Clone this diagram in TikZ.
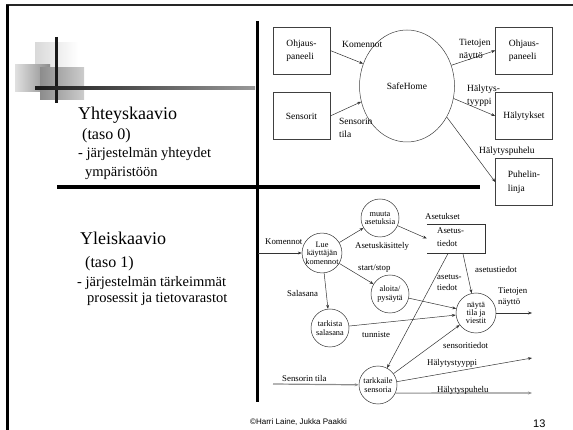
\documentclass[tikz,border=0pt]{standalone}
\usepackage{fontspec}
\setmainfont{Liberation Serif}
\setsansfont{Liberation Sans}
\usetikzlibrary{shapes.geometric,arrows.meta,positioning}

\begin{document}
\begin{tikzpicture}[x=1pt, y=-1pt, >=Stealth,
    extbox/.style={rectangle, draw=black!75, line width=0.5pt, minimum width=57pt, minimum height=47pt, align=left, font=\fontsize{9.5}{13.5}\selectfont},
    proc/.style={circle, draw=black!80, line width=0.5pt, minimum size=38pt, inner sep=0pt, align=center, font=\fontsize{8.3}{8.4}\selectfont},
    flow/.style={draw=black!80, line width=0.5pt, -{Stealth[length=4pt, width=3pt]}},
    greyflow/.style={draw=black!45, line width=1.2pt, -{Stealth[length=4pt, width=3pt]}},
    lbl/.style={anchor=west, inner sep=0pt, align=left, font=\fontsize{8.8}{11}\selectfont},
    toplbl/.style={anchor=west, inner sep=0pt, align=left, font=\fontsize{9.5}{13}\selectfont},
    heading/.style={anchor=base west, inner sep=0pt, font=\fontsize{18}{20}\selectfont},
    sub/.style={anchor=base west, inner sep=0pt, font=\fontsize{16}{18}\selectfont},
    desc/.style={anchor=base west, inner sep=0pt, font=\fontsize{14.5}{16}\selectfont}]

    \useasboundingbox (0,0) rectangle (573,430);

    % slide frame and logo
    \draw[line width=2pt, black!85] (6,5) -- (573,5);
    \draw[line width=3pt] (7,5) -- (7,430);
    \shade[left color=black!15, right color=white] (35,43) rectangle (78,70);
    \shade[left color=black!12, right color=black!45] (15,65) rectangle (50,92);
    \shade[left color=black!45, right color=black!20] (40,68) rectangle (84,100);
    \draw[line width=3pt, black!90] (56,37) -- (56,103);
    \shade[left color=black!90, right color=black!40] (35,86.5) rectangle (255,89.5);

    % dividers
    \draw[line width=3pt] (257,21) -- (257,402);
    \draw[line width=4pt] (57,187) -- (480,187);

    % left texts
    \node[heading] (title0) at (78,120) {Yhteyskaavio};
    \node[sub] (level0) at (82,140) {(taso 0)};
    \node[desc] (desc0a) at (78,158) {- järjestelmän yhteydet};
    \node[desc] (desc0b) at (85,177) {ympäristöön};
    \node[heading] (title1) at (80,245) {Yleiskaavio};
    \node[sub] (level1) at (85,268) {(taso 1)};
    \node[desc] (desc1a) at (77,287) {- järjestelmän tärkeimmät};
    \node[desc] (desc1b) at (87,303) {prosessit ja tietovarastot};

    % context diagram
    \node[ellipse, draw=black!75, line width=0.5pt, minimum width=95pt, minimum height=112pt, font=\fontsize{9.5}{11}\selectfont] (safe) at (407,86) {SafeHome};
    \node[extbox] (ctrlin) at (301.5,50.5) {Ohjaus-\\paneeli};
    \node[extbox] (sensors) at (301.5,116) {Sensorit};
    \node[extbox] (ctrlout) at (524,50.5) {Ohjaus-\\paneeli};
    \node[extbox] (alarm) at (524,116) {Hälytykset};
    \node[extbox] (phone) at (524,182) {Puhelin-\\linja};

    \path[flow] (ctrlin.east) -- (safe.153);
    \path[flow] (sensors.east) -- (safe.199);
    \path[flow] (safe.25) -- (ctrlout.west);
    \path[flow] (safe.-15) -- (alarm.west);
    \path[flow] (safe.-38) -- (phone.west);

    \node[toplbl] (cmd0) at (342,44) {Komennot};
    \node[toplbl] (sens0) at (339,128) {Sensorin\\tila};
    \node[toplbl] (disp0) at (459,50) {Tietojen\\näyttö};
    \node[toplbl] (type0) at (467,96) {Hälytys-\\tyyppi};
    \node[toplbl] (call0) at (479,151) {Hälytyspuhelu};

    % level 1 diagram
    \node[proc] (read) at (322,253) {Lue\\käyttäjän\\komennot};
    \node[proc] (change) at (380,218) {muuta\\asetuksia};
    \node[proc] (startstop) at (390,294) {aloita/\\pysäytä};
    \node[proc] (checkpw) at (330,328) {tarkista\\salasana};
    \node[proc, minimum size=40pt] (show) at (476,313) {näytä\\tila ja\\viestit};
    \node[proc] (monitor) at (378,385) {tarkkaile\\sensoria};
    \node[rectangle, minimum width=58pt, minimum height=29pt, inner sep=0pt] (store) at (456,238.5) {};
    \node[lbl, font=\fontsize{8.8}{13}\selectfont] (storetext) at (437,237) {Asetus-\\tiedot};
    \draw[black!80, line width=0.5pt] (store.north west) -- (store.north east) -- (store.south east) -- (store.south west);

    \coordinate (cmdin) at (258,253);
    \coordinate (sensin) at (273,384);
    \coordinate (showout) at (532,313);
    \coordinate (typeout) at (532,358);
    \coordinate (callout) at (532,393);

    \path[flow] (cmdin) -- (read);
    \path[flow] (read) -- (change);
    \path[flow] (read) -- (startstop);
    \path[flow] (read) -- (checkpw);
    \path[flow] (change) -- (store.west);
    \path[flow] (startstop) -- (show);
    \path[flow] (checkpw) -- (show);
    \path[flow] (store.-65) -- (show);
    \path[flow] (store.-118) -- (monitor);
    \path[flow] (monitor) -- (show);
    \path[flow] (show) -- (showout);
    \path[greyflow] (sensin) -- (monitor);
    \path[flow] (monitor) -- (typeout);
    \path[greyflow] (monitor.-25) -- (callout);

    \node[lbl] (cmd1) at (265,242) {Komennot};
    \node[lbl] (settings) at (425,216) {Asetukset};
    \node[lbl] (handling) at (355,246) {Asetuskäsittely};
    \node[lbl] (ss) at (358,269) {start/stop};
    \node[lbl] (pw) at (287,293) {Salasana};
    \node[lbl] (setdata) at (437,282.5) {asetus-\\tiedot};
    \node[lbl] (setdata2) at (475,269) {asetustiedot};
    \node[lbl] (disp1) at (498,297) {Tietojen\\näyttö};
    \node[lbl] (ident) at (362,335) {tunniste};
    \node[lbl] (sensdata) at (443,345) {sensoritiedot};
    \node[lbl] (type1) at (427,363) {Hälytystyyppi};
    \node[lbl] (sens1) at (282,378) {Sensorin tila};
    \node[lbl] (call1) at (437,390) {Hälytyspuhelu};

    % footer
    \node[anchor=base west, inner sep=0pt, font=\sffamily\fontsize{8}{10}\selectfont] (author) at (250,424) {©Harri Laine, Jukka Paakki};
    \node[anchor=base west, inner sep=0pt, font=\sffamily\fontsize{11}{12}\selectfont] (page) at (533,427) {13};
\end{tikzpicture}
\end{document}
